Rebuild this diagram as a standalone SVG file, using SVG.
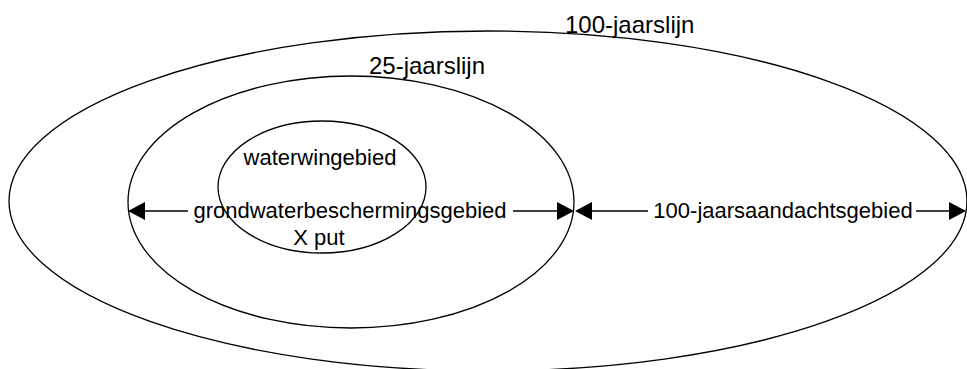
<svg xmlns="http://www.w3.org/2000/svg" width="967" height="369" viewBox="0 0 967 369">
<style>
.e{fill:none;stroke:#000;stroke-width:1.3}
.c{stroke:#000;stroke-width:1.3;fill:none}
.h{fill:#000;stroke:none}
text{font-family:"Liberation Sans",Arial,sans-serif;fill:#000}
.m{font-size:22px;text-anchor:middle}
.t{font-size:24px}
</style>
<rect width="967" height="369" fill="#fff"/>
<g id="outer">
<ellipse class="e" cx="488" cy="201" rx="479" ry="170"/>
<text class="t" x="565" y="33">100-jaarslijn</text>
</g>
<g id="middle">
<ellipse class="e" cx="351" cy="202" rx="223" ry="126"/>
<text class="t" x="369" y="74">25-jaarslijn</text>
</g>
<g id="inner">
<ellipse class="e" cx="322" cy="187" rx="104" ry="66"/>
<text class="m" x="320" y="165">waterwingebied</text>
<text class="m" x="319" y="245">X put</text>
</g>
<g id="connectors">
<path class="c" d="M144 211H188M513 211H558"/>
<path class="h" d="M128 211L145 202V220Z"/>
<path class="h" d="M574 211L557 202V220Z"/>
<text class="m" x="350" y="218">grondwaterbeschermingsgebied</text>
<path class="c" d="M591 211H648M916 211H950"/>
<path class="h" d="M575 211L592 202V220Z"/>
<path class="h" d="M966 211L949 202V220Z"/>
<text class="m" x="783" y="218">100-jaarsaandachtsgebied</text>
</g>
</svg>
